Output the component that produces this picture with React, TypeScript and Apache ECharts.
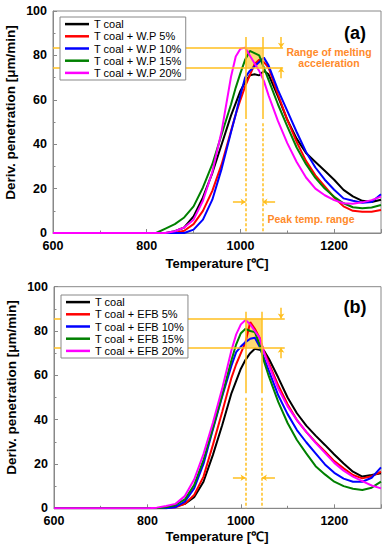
import React, { useEffect, useRef } from "react";
import * as echarts from "echarts";

const TEMPS = [600, 800, 820, 840, 860, 880, 900, 920, 940, 960, 980, 990, 1000, 1010, 1020, 1030, 1040, 1050, 1060, 1080, 1100, 1120, 1140, 1160, 1180, 1200, 1220, 1240, 1260, 1280, 1300];

// Chart (a): W.P blends
const A_COAL = [0, 0, 0, 0, 0.8, 2.5, 7.5, 16, 27, 40, 53, 58.5, 64, 68, 71, 71.5, 71, 73, 71.5, 61.5, 51, 42.5, 36, 32, 28, 24, 19.4, 16.5, 14.5, 14, 15];
const A_WP5 = [0, 0, 0, 0, 0, 1, 4, 10, 19, 31, 46, 53.5, 60, 66, 71, 76, 78, 77, 74.5, 62.5, 51, 41, 32.5, 26, 21, 16, 12, 10, 9.6, 9.6, 10.4];
const A_WP10 = [0, 0, 0, 0, 0, 0, 1.5, 6, 15, 29, 45.5, 53.5, 62, 70, 73, 75, 77, 79, 75.5, 64.5, 55, 45.5, 36.5, 29.5, 24, 19.5, 15.6, 14.5, 13.6, 14, 17.5];
const A_WP15 = [0, 0, 0, 2, 4, 7, 12, 20.5, 31, 44.5, 58, 65.5, 72, 78, 82, 81, 80, 74.5, 69, 58, 48, 38.5, 31, 24.8, 20, 16.3, 13.4, 11.6, 11.1, 11.5, 12.6];
const A_WP20 = [0, 0, 0, 0, 0.8, 2.5, 6, 14.5, 27.5, 46, 70.5, 79.5, 83, 83.5, 80, 76.5, 73, 68.5, 62, 50.5, 40.5, 32, 25, 20, 17, 14.8, 13.4, 13.2, 13.8, 14.8, 16.4];

// Chart (b): EFB blends
const B_COAL = [0, 0, 0, 0, 0.8, 2, 5, 12, 24, 37.5, 52, 57.5, 63, 67, 70, 72, 71.5, 71, 67.5, 59, 50, 42.9, 37.3, 32.8, 28.6, 24.3, 20.2, 16.5, 14.3, 15, 15.8];
const B_EFB5 = [0, 0, 0, 0, 0.5, 2, 6, 14.3, 28.5, 43.5, 59, 65, 70, 75, 84, 81, 77, 70.5, 65.5, 55.5, 47, 39.8, 34.5, 29.8, 25.7, 21.3, 18, 15, 13.5, 14.5, 16.5];
const B_EFB10 = [0, 0, 0, 0, 0.5, 3, 9, 20, 35.5, 50.5, 64.5, 70.5, 73, 75, 76.5, 77, 73, 67.5, 62, 51, 42.5, 35.3, 29.8, 24.8, 19.8, 16, 13.4, 12, 12, 13.8, 18.5];
const B_EFB15 = [0, 0, 0, 0.5, 1.5, 4, 10.5, 21.8, 36, 51, 66.9, 74, 79, 81, 80, 79.5, 74, 66, 59.5, 48, 38.5, 30.8, 24.8, 19, 15.3, 12, 10, 8.8, 8.3, 9.3, 12];
const B_EFB20 = [0, 0, 0.3, 1, 2, 5.5, 13, 24.5, 38.5, 54, 71.4, 78.5, 83, 85, 83, 80, 77, 70, 64.5, 54, 46, 39.8, 34.5, 29.5, 25, 20.5, 17, 14.3, 12.3, 10.3, 9];

const A_NAMES = ["T coal", "T coal + W.P 5%", "T coal + W.P 10%", "T coal + W.P 15%", "T coal + W.P 20%"];
const B_NAMES = ["T coal ", "T coal + EFB 5%", "T coal + EFB 10%", "T coal + EFB 15%", "T coal + EFB 20%"];
const COLORS = ["#000000", "#ff0000", "#0000ff", "#008000", "#ff00ff"];

// annotation values (data units)
const A_PEAK_T = [1011, 1047];
const A_RANGE_V = [74.5, 83.5];
const B_PEAK_T = [1010, 1045];
const B_RANGE_V = [72.5, 85.7];

const FONT = 'Arial, "Liberation Sans", sans-serif';
const ANN = "#ffbf1f";
const ANN_TEXT = "#ff8a2a";

function zip(vals: number[]) {
  return TEMPS.map((t, i) => [t, vals[i]]);
}

function annSeries(idx: number, peak: number[], range: number[], lineEnd: number, vTop: number, vMid: number, arrowX: number, arrowY: number, arrowL: number, arrowR: number) {
  const solid = { color: ANN, width: 1.5, type: "solid" as const };
  const dashed = { color: ANN, width: 1.5, type: [3, 2] as any };
  const arr = (a: number[], b: number[]) => [
    { coord: a, symbol: "none" },
    { coord: b, symbol: "arrow", symbolSize: [5, 5] },
  ];
  return {
    type: "line",
    name: "ann" + idx,
    xAxisIndex: idx,
    yAxisIndex: idx,
    data: [],
    z: 3,
    silent: true,
    markArea: {
      silent: true,
      itemStyle: { color: "rgba(255,185,0,0.55)" },
      data: [[{ coord: [peak[0], range[0]] }, { coord: [peak[1], range[1]] }]],
    },
    markLine: {
      silent: true,
      symbol: ["none", "none"],
      label: { show: false },
      emphasis: { disabled: true },
      lineStyle: solid,
      data: [
        [{ coord: [600, range[0]] }, { coord: [lineEnd, range[0]] }],
        [{ coord: [600, range[1]] }, { coord: [lineEnd, range[1]] }],
        [{ coord: [peak[0], vTop] }, { coord: [peak[0], vMid] }],
        [{ coord: [peak[1], vTop] }, { coord: [peak[1], vMid] }],
        [{ coord: [peak[0], vMid - 2], lineStyle: dashed }, { coord: [peak[0], 0] }],
        [{ coord: [peak[1], vMid - 2], lineStyle: dashed }, { coord: [peak[1], 0] }],
        arr([arrowX, range[1] + 4.8], [arrowX, range[1]]),
        arr([arrowX, range[0] - 4.8], [arrowX, range[0]]),
        arr([arrowL, arrowY], [peak[0], arrowY]),
        arr([arrowR, arrowY], [peak[1], arrowY]),
      ],
    },
  };
}

function axisX(gi: number) {
  return {
    type: "value",
    gridIndex: gi,
    min: 600,
    max: 1300,
    interval: 200,
    axisLine: { show: true, lineStyle: { color: "#888", width: 1 } },
    axisTick: { show: true, inside: true, length: 4, lineStyle: { color: "#888" } },
    minorTick: { show: true, splitNumber: 2, length: 2.5, lineStyle: { color: "#888" } },
    splitLine: { show: false },
    axisLabel: { color: "#000", fontWeight: "bold", fontSize: 12.5, fontFamily: FONT, margin: 6, showMaxLabel: false, formatter: (v: number) => String(v) },
  };
}
function axisY(gi: number) {
  return {
    type: "value",
    gridIndex: gi,
    min: 0,
    max: 100,
    interval: 20,
    axisLine: { show: true, lineStyle: { color: "#888", width: 1 } },
    axisTick: { show: true, inside: true, length: 4, lineStyle: { color: "#888" } },
    minorTick: { show: true, splitNumber: 2, length: 2.5, lineStyle: { color: "#888" } },
    splitLine: { show: false },
    axisLabel: { color: "#000", fontWeight: "bold", fontSize: 12.5, fontFamily: FONT, margin: 6, formatter: (v: number) => String(v) },
  };
}

function legend(names: string[], left: number, top: number) {
  return {
    data: names.map((n) => ({ name: n, icon: "rect" })),
    orient: "vertical",
    left,
    top,
    z: 10,
    itemWidth: 24,
    itemHeight: 2.5,
    itemGap: 0,
    padding: [1, 4, 1, 5],
    backgroundColor: "#fff",
    borderColor: "#888",
    borderWidth: 1,
    borderRadius: 0,
    selectedMode: false,
    textStyle: { fontSize: 11, fontFamily: FONT, color: "#000", lineHeight: 12.2 },
  };
}

function txt(text: string, x: number, y: number, size: number, color: string, rot = 0) {
  return {
    type: "text",
    x,
    y,
    rotation: rot,
    silent: true,
    z: 20,
    style: { text, fill: color, font: `bold ${size}px ${FONT}`, textAlign: "center", textVerticalAlign: "middle" },
  };
}

export default function App() {
  const ref = useRef<HTMLDivElement>(null);
  useEffect(() => {
    const chart = echarts.init(ref.current!, null, { renderer: "svg" });
    const aVals = [A_COAL, A_WP5, A_WP10, A_WP15, A_WP20];
    const bVals = [B_COAL, B_EFB5, B_EFB10, B_EFB15, B_EFB20];
    const series: any[] = [];
    aVals.forEach((v, i) =>
      series.push({ type: "line", name: A_NAMES[i], xAxisIndex: 0, yAxisIndex: 0, data: zip(v), symbol: "none", color: COLORS[i], lineStyle: { width: 2, color: COLORS[i] } })
    );
    bVals.forEach((v, i) =>
      series.push({ type: "line", name: B_NAMES[i], xAxisIndex: 1, yAxisIndex: 1, data: zip(v), symbol: "none", color: COLORS[i], lineStyle: { width: 2, color: COLORS[i] } })
    );
    series.push(annSeries(0, A_PEAK_T, A_RANGE_V, 1091, 88.3, 51.4, 1087, 14, 984, 1074));
    series.push(annSeries(1, B_PEAK_T, B_RANGE_V, 1094, 88.7, 51.9, 1086, 13.8, 983, 1073));

    chart.setOption({
      animation: false,
      grid: [
        { left: 53, right: 6, top: 11, height: 222, show: true, borderColor: "#888", borderWidth: 1 },
        { left: 54, right: 6, top: 286.7, height: 221.6, show: true, borderColor: "#888", borderWidth: 1 },
      ],
      xAxis: [axisX(0), axisX(1)],
      yAxis: [axisY(0), axisY(1)],
      legend: [legend(A_NAMES, 60, 17), legend(B_NAMES, 61, 295)],
      series,
      graphic: [
        txt("Deriv. penetration [μm/min]", 10.5, 112.5, 13.5, "#000", Math.PI / 2),
        txt("Temperature [℃]", 217, 263, 13, "#000"),
        txt("Deriv. penetration [μm/min]", 11.5, 387.5, 13.5, "#000", Math.PI / 2),
        txt("Temperature [℃]", 217, 536.5, 13, "#000"),
        txt("(a)", 355, 33, 18, "#000"),
        txt("(b)", 355, 306.5, 18, "#000"),
        txt("Range of melting", 329, 52.3, 10.5, ANN_TEXT),
        txt("acceleration", 329, 63.3, 10.5, ANN_TEXT),
        txt("Peak temp. range", 311, 219, 10.5, ANN_TEXT),
      ],
    });
    return () => chart.dispose();
  }, []);
  return <div ref={ref} style={{ position: "absolute", left: 0, top: 0, width: 387, height: 550 }} />;
}
